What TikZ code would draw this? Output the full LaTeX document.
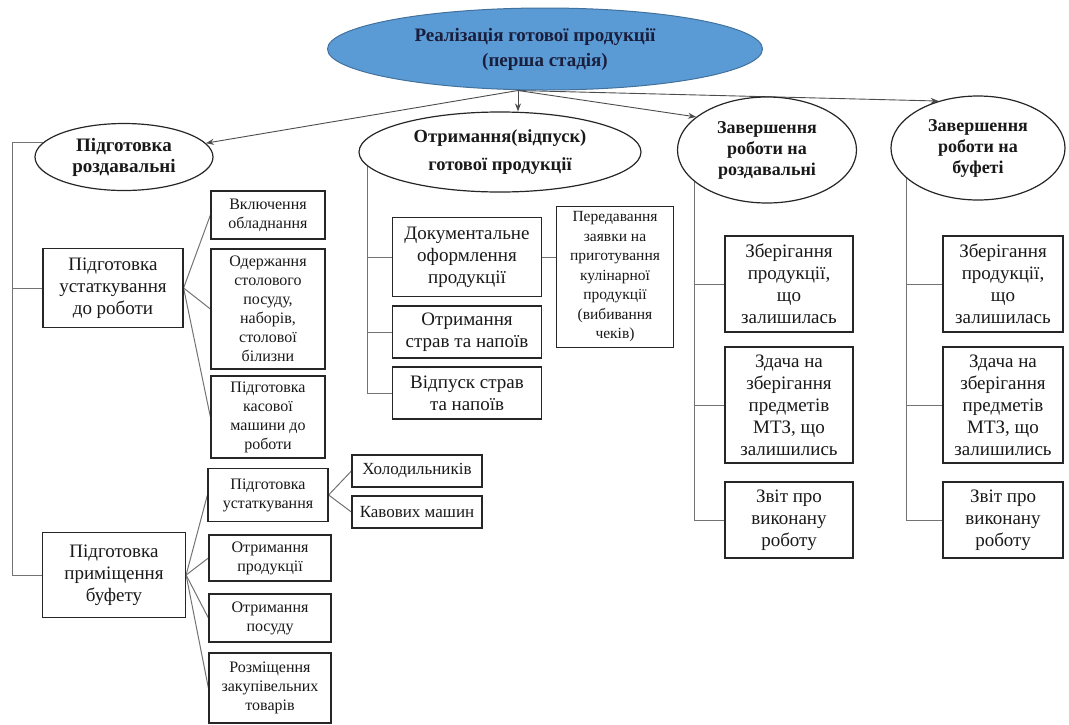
\documentclass[tikz,border=0pt]{standalone}
\usepackage{fontspec}
\setmainfont{Liberation Serif}
\usetikzlibrary{shapes.geometric,arrows.meta,calc,backgrounds}
\definecolor{topblue}{RGB}{91,155,213}
\definecolor{topedge}{RGB}{65,113,156}
\definecolor{navytext}{RGB}{25,30,60}
\begin{document}
\begin{tikzpicture}[x=1pt,y=-1pt,
 box/.style={draw=black!85, line width=1.2pt, fill=white, align=center, inner sep=0pt, text=black!90},
 ell/.style={ellipse, draw=black!85, line width=1.2pt, fill=white, align=center, inner sep=0pt, text=black!90, font=\bfseries\fontsize{18}{21}\selectfont},
 tree/.style={draw=black!55, line width=1pt},
 arr/.style={draw=black!70, line width=0.9pt, -{Stealth[length=8pt,width=6pt]}},
 big/.style={font=\fontsize{19}{22}\selectfont},
 small/.style={font=\fontsize{16}{19}\selectfont},
 tiny/.style={font=\fontsize{15.5}{19.5}\selectfont},
 wide/.style={font=\fontsize{17}{20}\selectfont},
]
\useasboundingbox (0,0) rectangle (1069,724);

% top ellipse
\node[ellipse, draw=topedge, fill=topblue, line width=1pt, minimum width=435pt, minimum height=82pt,
      inner sep=0pt, align=center, text=navytext, font=\bfseries\fontsize{19}{25}\selectfont]
      (top) at (545,49) {Реалізація готової продукції\hspace*{20pt}\\(перша стадія)};
\coordinate (src) at ([xshift=-27pt]top.south);

% second level ellipses
\node[ell, font=\bfseries\fontsize{19}{21}\selectfont, minimum width=178pt, minimum height=67pt] (e1) at (124,157) {Підготовка\\роздавальні};
\node[ell, font=\bfseries\fontsize{18.5}{28}\selectfont, minimum width=282pt, minimum height=80pt, inner xsep=-30pt] (e2) at (500,152) {Отримання(відпуск)\\готової продукції};
\node[ell, minimum width=179pt, minimum height=106pt] (e3) at (767,150) {Завершення\\роботи на\\роздавальні};
\node[ell, minimum width=174pt, minimum height=104pt] (e4) at (978,148) {Завершення\\роботи на\\буфеті};

% left column
\node[box, big, minimum width=140pt, minimum height=79pt] (b1) at (113,288) {Підготовка\\устаткування\\до роботи};
\node[box, big, minimum width=143pt, minimum height=85pt] (b2) at (114,575) {Підготовка\\приміщення\\буфету};
\node[box, small, minimum width=114pt, minimum height=48pt] (s1) at (268,215) {Включення\\обладнання};
\node[box, small, minimum width=114pt, minimum height=120pt] (s2) at (268,309) {Одержання\\столового\\посуду,\\наборів,\\столової\\білизни};
\node[box, small, minimum width=114pt, minimum height=82pt] (s3) at (268,417) {Підготовка\\касової\\машини до\\роботи};

\node[box, small, minimum width=120pt, minimum height=53pt] (t1) at (268,495) {Підготовка\\устаткування};
\node[box, small, minimum width=122pt, minimum height=46pt] (t2) at (270,558) {Отримання\\продукції};
\node[box, small, minimum width=122pt, minimum height=48pt] (t3) at (270,618) {Отримання\\посуду};
\node[box, small, minimum width=122pt, minimum height=70pt] (t4) at (270,688) {Розміщення\\закупівельних\\товарів};
\node[box, wide, minimum width=130pt, minimum height=32pt] (h1) at (417,471) {Холодильників};
\node[box, wide, minimum width=130pt, minimum height=32pt] (h2) at (417,512) {Кавових машин};

% middle column
\node[box, big, minimum width=149pt, minimum height=79pt] (m1) at (467,257) {Документальне\\оформлення\\продукції};
\node[box, big, minimum width=149pt, minimum height=52pt] (m2) at (467,332) {Отримання\\страв та напоїв};
\node[box, big, minimum width=149pt, minimum height=52pt] (m3) at (467,393) {Відпуск страв\\та напоїв};
\node[box, tiny, minimum width=117pt, minimum height=141pt] (p) at (615,277) {Передавання\\заявки на\\приготування\\кулінарної\\продукції\\(вибивання\\чеків)};

% right column 1
\node[box, big, minimum width=128pt, minimum height=96pt] (r1) at (789,284) {Зберігання\\продукції,\\що\\залишилась};
\node[box, big, minimum width=128pt, minimum height=116pt] (r2) at (789,405) {Здача на\\зберігання\\предметів\\МТЗ, що\\залишились};
\node[box, big, minimum width=128pt, minimum height=76pt] (r3) at (789,520) {Звіт про\\виконану\\роботу};

% right column 2
\node[box, big, minimum width=120pt, minimum height=96pt] (q1) at (1003,284) {Зберігання\\продукції,\\що\\залишилась};
\node[box, big, minimum width=120pt, minimum height=116pt] (q2) at (1003,405) {Здача на\\зберігання\\предметів\\МТЗ, що\\залишились};
\node[box, big, minimum width=120pt, minimum height=76pt] (q3) at (1003,520) {Звіт про\\виконану\\роботу};

\begin{scope}[on background layer]
% arrows
\draw[arr] (src) -- (e1);
\draw[arr] (src) -- (src |- e2.north);
\draw[arr] (src) -- (e3.155);
\draw[arr] (src) -- (e4.130);

\coordinate (L1) at (12,0);
\draw[tree] (e1.170) -| (L1 |- b2.west) -- (b2.west);
\draw[tree] (L1 |- b1.west) -- (b1.west);
\draw[tree] (b1.east) -- (s1.west);
\draw[tree] (b1.east) -- (s2.west);
\draw[tree] (b1.east) -- (s3.west);
\draw[tree] (b2.east) -- (t1.west);
\draw[tree] (b2.east) -- (t2.west);
\draw[tree] (b2.east) -- (t3.west);
\draw[tree] (b2.east) -- (t4.west);
\draw[tree] (t1.east) -- (h1.west);
\draw[tree] (t1.east) -- (h2.west);

\draw[tree] (e2.186) |- (m3.west);
\draw[tree] (e2.186 |- m1.west) -- (m1.west);
\draw[tree] (e2.186 |- m2.west) -- (m2.west);
\draw[tree] (m1.east) -- (m1.east -| p.west);

\draw[tree] (e3.204) |- (r3.west);
\draw[tree] (e3.204 |- r1.west) -- (r1.west);
\draw[tree] (e3.204 |- r2.west) -- (r2.west);

\draw[tree] (e4.203) |- (q3.west);
\draw[tree] (e4.203 |- q1.west) -- (q1.west);
\draw[tree] (e4.203 |- q2.west) -- (q2.west);
\end{scope}
\end{tikzpicture}
\end{document}
